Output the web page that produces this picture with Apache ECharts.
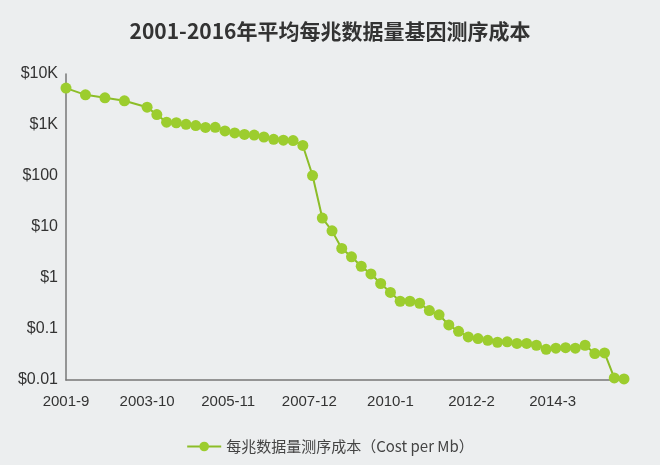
<!DOCTYPE html>
<html lang="zh">
<head>
<meta charset="UTF-8">
<title>测序成本</title>
<script src="https://cdn.jsdelivr.net/npm/echarts@6/dist/echarts.min.js"></script>
<style>body{margin:0;background:#eceeef}</style>
</head>
<body>
<div id="main" style="width:660px;height:465px;"></div>
<script>
// 采样月份与成本（美元/Mb）
var dates = ['2001-9','2002-3','2002-9','2003-3','2003-10','2004-1','2004-4','2004-7','2004-10',
  '2005-1','2005-4','2005-7','2005-10','2006-1','2006-4','2006-7','2006-10','2007-1','2007-4',
  '2007-7','2007-10','2008-1','2008-4','2008-7','2008-10','2009-1','2009-4','2009-7','2009-10',
  '2010-1','2010-4','2010-7','2010-10','2011-1','2011-4','2011-7','2011-10','2012-1','2012-4',
  '2012-7','2012-10','2013-1','2013-4','2013-7','2013-10','2014-1','2014-4','2014-7','2014-10',
  '2015-1','2015-4','2015-7','2015-10','2016-1'];
var costs = [5292,3899,3414,2986,2231,1599,1136,1107,1029,974,898,899,767,699,652,636,582,523,503,
  496,397,102,15,8.4,3.8,2.6,1.7,1.2,0.78,0.52,0.35,0.35,0.32,0.23,0.19,0.12,0.09,0.07,0.065,
  0.06,0.055,0.056,0.052,0.052,0.048,0.04,0.042,0.043,0.042,0.048,0.033,0.034,0.011,0.0105];
var yLabels = {'0.01':'$0.01','0.1':'$0.1','1':'$1','10':'$10','100':'$100','1000':'$1K','10000':'$10K'};

// 月度类目轴，让点位按时间等比排列
var months = [];
for (var y = 2001, m = 9; y < 2016 || (y === 2016 && m <= 1); ) {
  months.push(y + '-' + m);
  m++; if (m > 12) { m = 1; y++; }
}
var series = months.map(function (k) {
  var i = dates.indexOf(k);
  return i >= 0 ? costs[i] : null;
});

var chart = echarts.init(document.getElementById('main'));
chart.setOption({
  backgroundColor: '#eceeef',
  title: {
    text: '2001-2016年平均每兆数据量基因测序成本',
    left: 'center', top: 16,
    textStyle: {fontSize: 21, fontWeight: 'bold', color: '#333', fontFamily: 'Noto Sans CJK SC'}
  },
  legend: {
    bottom: 6, itemWidth: 34, itemHeight: 12,
    textStyle: {fontSize: 15, color: '#444', fontFamily: 'Noto Sans CJK SC'},
    data: ['每兆数据量测序成本（Cost per Mb）']
  },
  grid: {left: 66, right: 36, top: 74, bottom: 85},
  xAxis: {
    type: 'category', data: months, boundaryGap: false,
    axisLine: {lineStyle: {color: '#777', width: 1.5}},
    axisTick: {show: false},
    axisLabel: {interval: 24, fontSize: 15, color: '#333', margin: 14}
  },
  yAxis: {
    type: 'log', logBase: 10, min: 0.01, max: 10000,
    axisLine: {show: true, lineStyle: {color: '#777', width: 1.5}},
    axisTick: {show: false},
    splitLine: {show: false},
    axisLabel: {fontSize: 16, color: '#333', margin: 8,
      formatter: function (v) { return yLabels[String(+v.toPrecision(3))] || ''; }}
  },
  series: [{
    name: '每兆数据量测序成本（Cost per Mb）',
    type: 'line', data: series, connectNulls: true, showAllSymbol: true,
    symbol: 'circle', symbolSize: 11,
    itemStyle: {color: '#9ccd2e'},
    lineStyle: {color: '#8cbd28', width: 2}
  }]
});
</script>
</body>
</html>
